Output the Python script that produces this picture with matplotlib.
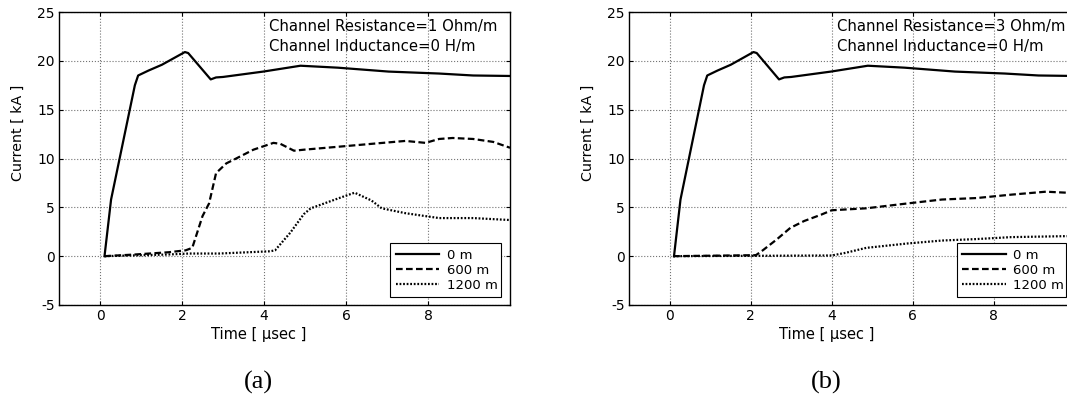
import matplotlib
matplotlib.use("Agg")
import matplotlib.pyplot as plt

plt.rcParams["axes.unicode_minus"] = False

# time [usec] / current [kA]
# 0 m (channel base) - same in both panels
t_0m = [0.11, 0.27, 0.85, 0.93, 1.18, 1.51, 2.07, 2.15, 2.70, 2.83, 3.0, 3.98,
        4.89, 5.80, 7.04, 8.27, 9.10, 10.0]
i_0m = [0.0, 5.8, 17.5, 18.5, 19.0, 19.6, 20.9, 20.8, 18.1, 18.3, 18.35, 18.9,
        19.5, 19.3, 18.9, 18.7, 18.5, 18.45]

# (a) R = 1 Ohm/m
t_a600 = [0.11, 0.85, 1.67, 2.09, 2.25, 2.50, 2.66, 2.83, 3.08, 3.32, 3.74,
          4.23, 4.40, 4.73, 4.97, 5.80, 6.62, 7.45, 7.94, 8.27, 8.60, 9.10,
          9.59, 10.0]
i_a600 = [0.0, 0.17, 0.4, 0.6, 0.85, 4.1, 5.4, 8.5, 9.5, 10.0, 10.9, 11.6,
          11.5, 10.8, 10.9, 11.2, 11.5, 11.8, 11.6, 12.0, 12.1, 12.0, 11.7,
          11.1]
t_a1200 = [0.11, 1.67, 2.17, 2.91, 4.15, 4.27, 4.64, 4.97, 5.14, 5.80, 6.21,
           6.62, 6.87, 7.45, 7.94, 8.27, 9.10, 10.0]
i_a1200 = [0.0, 0.17, 0.27, 0.27, 0.5, 0.6, 2.4, 4.3, 4.9, 5.9, 6.5, 5.7,
           4.9, 4.4, 4.1, 3.9, 3.9, 3.7]

# (b) R = 3 Ohm/m
t_b600 = [0.09, 2.13, 2.30, 2.64, 2.98, 3.32, 3.74, 4.0, 4.85, 5.87, 6.72,
          7.57, 8.43, 9.28, 9.79, 10.0]
i_b600 = [0.0, 0.1, 0.6, 1.7, 2.9, 3.6, 4.25, 4.7, 4.9, 5.4, 5.8, 5.95, 6.3,
          6.6, 6.5, 6.5]
t_b1200 = [0.09, 4.0, 4.34, 4.85, 5.87, 6.72, 7.57, 8.43, 9.79, 10.0]
i_b1200 = [0.0, 0.07, 0.34, 0.85, 1.3, 1.6, 1.75, 1.95, 2.05, 2.05]

panels = [
    ("(a)", "Channel Resistance=1 Ohm/m", (t_a600, i_a600), (t_a1200, i_a1200)),
    ("(b)", "Channel Resistance=3 Ohm/m", (t_b600, i_b600), (t_b1200, i_b1200)),
]
xticks = [0, 2, 4, 6, 8]
yticks = [-5, 0, 5, 10, 15, 20, 25]
labels = ["0 m", "600 m", "1200 m"]

fig = plt.figure(figsize=(10.67, 3.99), dpi=100)
rects = [[0.0553, 0.2356, 0.4227, 0.7343], [0.5895, 0.2356, 0.4180, 0.7343]]

for rect, (tag, rtext, d600, d1200) in zip(rects, panels):
    ax = fig.add_axes(rect)
    ax.plot(t_0m, i_0m, color="black", lw=1.6, label=labels[0])
    ax.plot(*d600, color="black", lw=1.6, ls=(0, (3, 1.5)), label=labels[1])
    ax.plot(*d1200, color="black", lw=1.6, ls=(0, (0.8, 0.8)), label=labels[2])

    ax.set_xlim(-1, 10)
    ax.set_ylim(-5, 25)
    ax.set_xticks(xticks)
    ax.set_yticks(yticks)
    ax.tick_params(direction="in", length=3, width=0.8, labelsize=10,
                   top=True, right=True, pad=3)
    ax.grid(True, color="0.45", ls=":", lw=0.8)
    for s in ax.spines.values():
        s.set_linewidth(1.0)

    ax.set_xlabel("Time [ µsec ]", fontsize=10.5, va="center")
    ax.xaxis.set_label_coords(0.443, -0.102)
    ax.set_ylabel("Current [ kA ]", fontsize=10.3, va="center")
    ax.yaxis.set_label_coords(-0.092, 0.588)

    ax.text(0.466, 0.949, rtext, transform=ax.transAxes, fontsize=10.7,
            va="center", ha="left")
    ax.text(0.466, 0.881, "Channel Inductance=0 H/m", transform=ax.transAxes,
            fontsize=10.7, va="center", ha="left")
    ax.text(0.443, -0.263, tag, transform=ax.transAxes, fontsize=19,
            family="Liberation Serif", va="center", ha="center")

    leg = ax.legend(loc="lower left", bbox_to_anchor=(0.72, 0.005, 0.275, 0.19),
                    mode="expand", fontsize=9.5, handlelength=3.3,
                    labelspacing=0.15, borderpad=0.4, handletextpad=0.6,
                    fancybox=False, framealpha=1, edgecolor="black")
    leg.get_frame().set_linewidth(0.8)

fig.savefig("out.png", dpi=100)
